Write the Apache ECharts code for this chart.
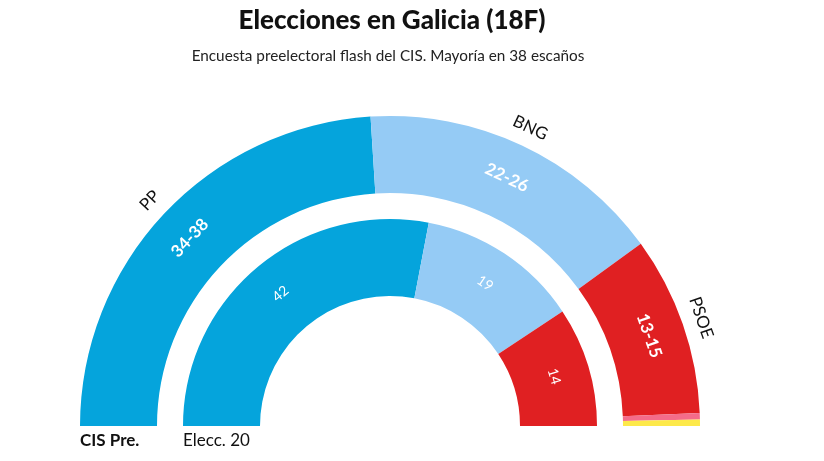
<!DOCTYPE html>
<html>
<head>
<meta charset="utf-8">
<script src="https://cdn.jsdelivr.net/npm/echarts@6/dist/echarts.min.js"></script>
<style>
  html, body { margin: 0; padding: 0; background: #fff; }
  #chart { width: 824px; height: 461px; }
</style>
</head>
<body>
<div id="chart"></div>
<script>
// encuesta CIS (anillo exterior) y elecciones 2020 (anillo interior)
let parties = ['PP', 'BNG', 'PSOE', 'Otros', 'Otros2'];
let colors = ['#05a4dc', '#95cbf5', '#e02022', '#f46c8a', '#fde94a'];
let cisSeats = [36, 24, 14, 0.5, 0.5];
let cisLabels = ['34-38', '22-26', '13-15', '', ''];
let partyLabels = ['PP', 'BNG', 'PSOE', '', ''];
let elec20Seats = [42, 19, 14, 0, 0];

const center = [390, 426];
const font = 'Lato';

function sum(arr) {
  return arr.reduce((a, b) => a + b, 0);
}

// mitad invisible para dibujar medio donut
function halfData(values, labels, showColor) {
  let data = values.map((v, i) => ({
    name: parties[i],
    value: v,
    itemStyle: { color: showColor ? colors[i] : 'rgba(0,0,0,0)' },
    label: { formatter: labels[i] }
  }));
  data.push({
    name: 'hidden',
    value: sum(values),
    itemStyle: { color: 'rgba(0,0,0,0)' },
    label: { show: false }
  });
  return data;
}

let myChart = echarts.init(document.getElementById('chart'));
myChart.setOption({
  animation: false,
  title: [
    {
      text: 'Elecciones en Galicia (18F)',
      left: 392, top: 8, textAlign: 'center', padding: 0,
      textStyle: { fontFamily: font, fontWeight: 900, fontSize: 26, color: '#111' }
    },
    {
      text: 'Encuesta preelectoral flash del CIS. Mayoría en 38 escaños',
      left: 388, top: 49, textAlign: 'center', padding: 0,
      textStyle: { fontFamily: font, fontWeight: 'normal', fontSize: 15.3, color: '#222' }
    },
    {
      text: 'CIS Pre.',
      left: 80, top: 432, padding: 0,
      textStyle: { fontFamily: font, fontWeight: 'bold', fontSize: 17, color: '#111' }
    },
    {
      text: 'Elecc. 20',
      left: 183, top: 432, padding: 0,
      textStyle: { fontFamily: font, fontWeight: 'normal', fontSize: 17, color: '#111' }
    }
  ],
  series: [
    {
      type: 'pie',
      silent: true,
      center: center,
      radius: [233, 310],
      startAngle: 180,
      clockwise: true,
      label: {
        show: true,
        position: 'inside',
        rotate: 'tangential',
        color: '#fff',
        fontFamily: font,
        fontWeight: 'bold',
        fontSize: 17
      },
      labelLine: { show: false },
      data: halfData(cisSeats, cisLabels, true)
    },
    {
      type: 'pie',
      silent: true,
      center: center,
      radius: [310, 343],
      startAngle: 180,
      clockwise: true,
      label: {
        show: true,
        position: 'inside',
        rotate: 'tangential',
        color: '#111',
        fontFamily: font,
        fontSize: 17
      },
      labelLine: { show: false },
      data: halfData(cisSeats, partyLabels, false)
    },
    {
      type: 'pie',
      silent: true,
      center: center,
      radius: [130, 207],
      startAngle: 180,
      clockwise: true,
      label: {
        show: true,
        position: 'inside',
        rotate: 'tangential',
        color: '#fff',
        fontFamily: font,
        fontWeight: 'normal',
        fontSize: 14
      },
      labelLine: { show: false },
      data: halfData(elec20Seats, elec20Seats.map(v => v ? String(v) : ''), true)
    }
  ]
});
</script>
</body>
</html>
